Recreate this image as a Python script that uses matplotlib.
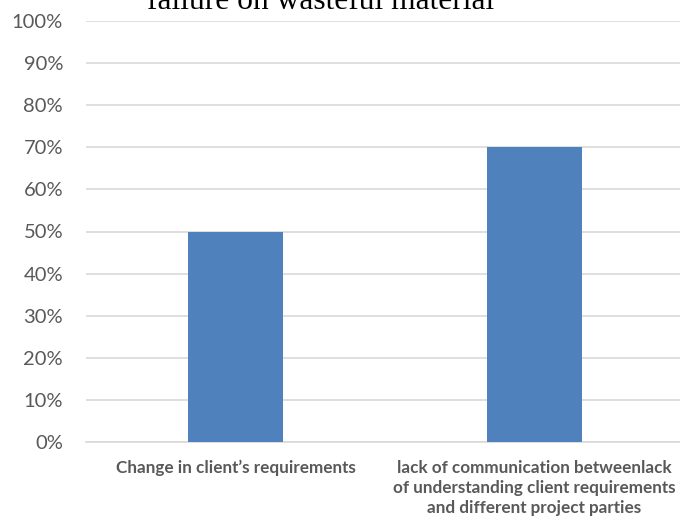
import matplotlib
matplotlib.use("Agg")
import matplotlib.pyplot as plt
from matplotlib.ticker import PercentFormatter

# data
categories = ["Change in client\u2019s requirements",
              "lack of communication betweenlack\nof understanding client requirements\nand different project parties"]
values = [0.50, 0.70]
yticks = [0.0, 0.1, 0.2, 0.3, 0.4, 0.5, 0.6, 0.7, 0.8, 0.9, 1.0]
title = "failure on wasteful material"

fig = plt.figure(figsize=(6.8, 5.21), dpi=100)
ax = fig.add_axes([86 / 680, 1 - 442 / 521, 598 / 680, 421 / 521])

ax.bar(range(len(values)), values, width=0.315, color="#4F81BD", zorder=3)
ax.set_xlim(-0.5, 1.5)
ax.set_ylim(0, 1.0)
ax.set_yticks(yticks)
ax.yaxis.set_major_formatter(PercentFormatter(1.0, decimals=0))
ax.grid(axis="y", color="#D9D9D9", linewidth=1.2, zorder=0)
for s in ["top", "right", "left"]:
    ax.spines[s].set_visible(False)
ax.spines["bottom"].set_color("#D9D9D9")
ax.spines["bottom"].set_linewidth(1.2)
ax.tick_params(axis="y", length=0, pad=16.5, labelsize=14.5, labelcolor="#595959")
ax.tick_params(axis="x", length=0, pad=13)
for lab in ax.get_yticklabels():
    lab.set_fontfamily("Lato")
ax.set_xticks(range(len(categories)))
ax.set_xticklabels(categories, fontfamily="Lato", fontweight="bold", fontsize=12.3,
                   color="#595959", linespacing=1.3)

# title sits mostly above the top edge, as in the original
fig.text(321 / 680, 1 - 9 / 521, title, ha="center", va="baseline",
         fontfamily="Liberation Serif", fontsize=22.7, color="black")

fig.savefig("out.png", dpi=100)
